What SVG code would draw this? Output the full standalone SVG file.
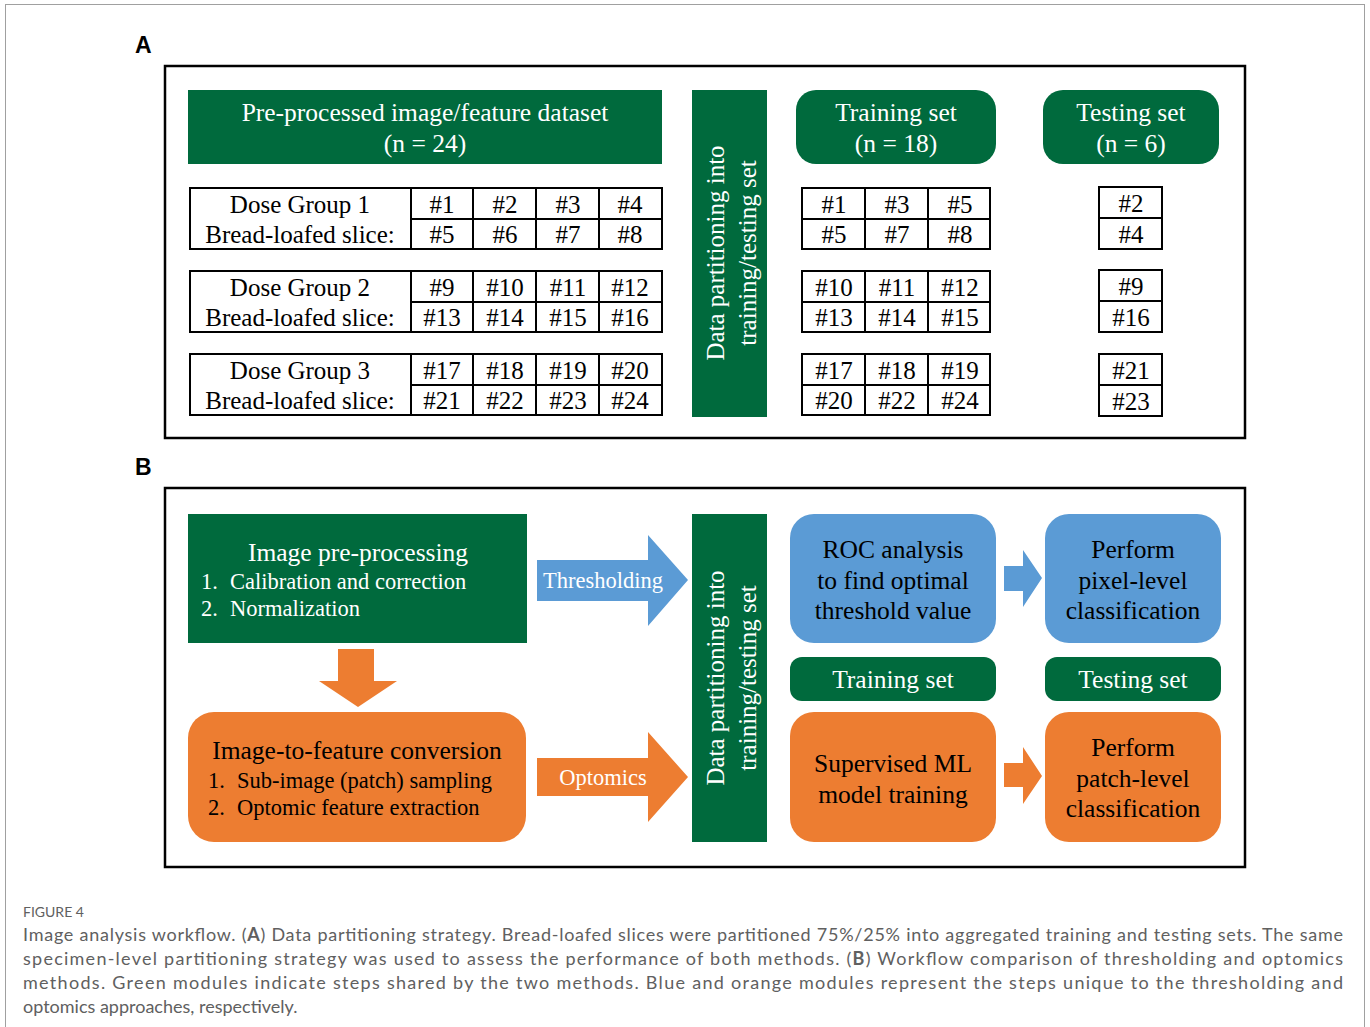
<svg xmlns="http://www.w3.org/2000/svg" width="1370" height="1027" viewBox="0 0 1370 1027">
<style>
.bg{fill:#ffffff}
.frame{fill:none;stroke:#000;stroke-width:2.5}
.outer{fill:none;stroke:#a0a0a0;stroke-width:1}
.green{fill:#006a3d}
.blue{fill:#5b9bd5}
.orange{fill:#ed7d31}
.cell{fill:#fff;stroke:#000;stroke-width:2}
.line{stroke:#000;stroke-width:2}
.t{font-family:"Liberation Serif","Times New Roman",serif;text-anchor:middle}
.s{font-family:"Liberation Serif","Times New Roman",serif}
.w{fill:#fff}
.k{fill:#000}
.f26{font-size:25.5px}
.f25{font-size:25px}
.f22{font-size:22.5px}
.lbl{font-family:"Liberation Sans",Arial,sans-serif;font-weight:bold;font-size:23px;fill:#000}
.cap{font-family:Lato,"Open Sans","Liberation Sans",sans-serif;font-size:18px;fill:#606060}
</style>
<rect class="bg" x="0" y="0" width="1370" height="1027"/>
<rect class="outer" x="5.5" y="4.5" width="1359" height="1040"/>

<!-- Panel A -->
<text class="lbl" x="135" y="53">A</text>
<rect class="frame" x="165" y="66" width="1080" height="372"/>

<g id="dataset-header">
<rect class="green" x="188" y="90" width="474" height="74"/>
<text class="t w f26" x="425" y="121">Pre-processed image/feature dataset</text>
<text class="t w f26" x="425" y="152">(n = 24)</text>
</g>

<g id="dose-group-1">
<rect class="cell" x="190" y="188" width="472" height="61"/>
<line class="line" x1="411" y1="188" x2="411" y2="249"/>
<line class="line" x1="473" y1="188" x2="473" y2="249"/>
<line class="line" x1="536" y1="188" x2="536" y2="249"/>
<line class="line" x1="599" y1="188" x2="599" y2="249"/>
<line class="line" x1="411" y1="219" x2="662" y2="219"/>
<text class="t k f25" x="300" y="213">Dose Group 1</text>
<text class="t k f25" x="300" y="243">Bread-loafed slice:</text>
<text class="t k f25" x="442" y="213">#1</text><text class="t k f25" x="505" y="213">#2</text><text class="t k f25" x="568" y="213">#3</text><text class="t k f25" x="630" y="213">#4</text>
<text class="t k f25" x="442" y="243">#5</text><text class="t k f25" x="505" y="243">#6</text><text class="t k f25" x="568" y="243">#7</text><text class="t k f25" x="630" y="243">#8</text>
</g>

<g id="dose-group-2">
<rect class="cell" x="190" y="271" width="472" height="61"/>
<line class="line" x1="411" y1="271" x2="411" y2="332"/>
<line class="line" x1="473" y1="271" x2="473" y2="332"/>
<line class="line" x1="536" y1="271" x2="536" y2="332"/>
<line class="line" x1="599" y1="271" x2="599" y2="332"/>
<line class="line" x1="411" y1="302" x2="662" y2="302"/>
<text class="t k f25" x="300" y="296">Dose Group 2</text>
<text class="t k f25" x="300" y="326">Bread-loafed slice:</text>
<text class="t k f25" x="442" y="296">#9</text><text class="t k f25" x="505" y="296">#10</text><text class="t k f25" x="568" y="296">#11</text><text class="t k f25" x="630" y="296">#12</text>
<text class="t k f25" x="442" y="326">#13</text><text class="t k f25" x="505" y="326">#14</text><text class="t k f25" x="568" y="326">#15</text><text class="t k f25" x="630" y="326">#16</text>
</g>

<g id="dose-group-3">
<rect class="cell" x="190" y="354" width="472" height="61"/>
<line class="line" x1="411" y1="354" x2="411" y2="415"/>
<line class="line" x1="473" y1="354" x2="473" y2="415"/>
<line class="line" x1="536" y1="354" x2="536" y2="415"/>
<line class="line" x1="599" y1="354" x2="599" y2="415"/>
<line class="line" x1="411" y1="385" x2="662" y2="385"/>
<text class="t k f25" x="300" y="379">Dose Group 3</text>
<text class="t k f25" x="300" y="409">Bread-loafed slice:</text>
<text class="t k f25" x="442" y="379">#17</text><text class="t k f25" x="505" y="379">#18</text><text class="t k f25" x="568" y="379">#19</text><text class="t k f25" x="630" y="379">#20</text>
<text class="t k f25" x="442" y="409">#21</text><text class="t k f25" x="505" y="409">#22</text><text class="t k f25" x="568" y="409">#23</text><text class="t k f25" x="630" y="409">#24</text>
</g>

<g id="partition-a">
<rect class="green" x="692" y="90" width="75" height="327"/>
<text class="t w f25" transform="translate(724,253) rotate(-90)">Data partitioning into</text>
<text class="t w f25" transform="translate(756,253) rotate(-90)">training/testing set</text>
</g>

<g id="training-header">
<rect class="green" x="796" y="90" width="200" height="74" rx="20"/>
<text class="t w f26" x="896" y="121">Training set</text>
<text class="t w f26" x="896" y="152">(n = 18)</text>
</g>

<g id="testing-header">
<rect class="green" x="1043" y="90" width="176" height="74" rx="20"/>
<text class="t w f26" x="1131" y="121">Testing set</text>
<text class="t w f26" x="1131" y="152">(n = 6)</text>
</g>

<g id="training-table-1">
<rect class="cell" x="802" y="188" width="188" height="61"/>
<line class="line" x1="865" y1="188" x2="865" y2="249"/>
<line class="line" x1="928" y1="188" x2="928" y2="249"/>
<line class="line" x1="802" y1="219" x2="990" y2="219"/>
<text class="t k f25" x="834" y="213">#1</text><text class="t k f25" x="897" y="213">#3</text><text class="t k f25" x="960" y="213">#5</text>
<text class="t k f25" x="834" y="243">#5</text><text class="t k f25" x="897" y="243">#7</text><text class="t k f25" x="960" y="243">#8</text>
</g>
<g id="training-table-2">
<rect class="cell" x="802" y="271" width="188" height="61"/>
<line class="line" x1="865" y1="271" x2="865" y2="332"/>
<line class="line" x1="928" y1="271" x2="928" y2="332"/>
<line class="line" x1="802" y1="302" x2="990" y2="302"/>
<text class="t k f25" x="834" y="296">#10</text><text class="t k f25" x="897" y="296">#11</text><text class="t k f25" x="960" y="296">#12</text>
<text class="t k f25" x="834" y="326">#13</text><text class="t k f25" x="897" y="326">#14</text><text class="t k f25" x="960" y="326">#15</text>
</g>
<g id="training-table-3">
<rect class="cell" x="802" y="354" width="188" height="61"/>
<line class="line" x1="865" y1="354" x2="865" y2="415"/>
<line class="line" x1="928" y1="354" x2="928" y2="415"/>
<line class="line" x1="802" y1="385" x2="990" y2="385"/>
<text class="t k f25" x="834" y="379">#17</text><text class="t k f25" x="897" y="379">#18</text><text class="t k f25" x="960" y="379">#19</text>
<text class="t k f25" x="834" y="409">#20</text><text class="t k f25" x="897" y="409">#22</text><text class="t k f25" x="960" y="409">#24</text>
</g>

<g id="testing-table-1">
<rect class="cell" x="1099" y="187" width="63" height="62"/>
<line class="line" x1="1099" y1="218" x2="1162" y2="218"/>
<text class="t k f25" x="1131" y="212">#2</text>
<text class="t k f25" x="1131" y="243">#4</text>
</g>
<g id="testing-table-2">
<rect class="cell" x="1099" y="270" width="63" height="62"/>
<line class="line" x1="1099" y1="301" x2="1162" y2="301"/>
<text class="t k f25" x="1131" y="295">#9</text>
<text class="t k f25" x="1131" y="326">#16</text>
</g>
<g id="testing-table-3">
<rect class="cell" x="1099" y="354" width="63" height="62"/>
<line class="line" x1="1099" y1="385" x2="1162" y2="385"/>
<text class="t k f25" x="1131" y="379">#21</text>
<text class="t k f25" x="1131" y="410">#23</text>
</g>

<!-- Panel B -->
<text class="lbl" x="135" y="475">B</text>
<rect class="frame" x="165" y="488" width="1080" height="379"/>

<g id="image-preprocessing">
<rect class="green" x="188" y="514" width="339" height="129"/>
<text class="t w f26" x="358" y="561">Image pre-processing</text>
<text class="s w f22" x="201" y="589">1.</text>
<text class="s w f22" x="230" y="589">Calibration and correction</text>
<text class="s w f22" x="201" y="616">2.</text>
<text class="s w f22" x="230" y="616">Normalization</text>
</g>

<g id="image-to-feature">
<rect class="orange" x="188" y="712" width="338" height="130" rx="26"/>
<text class="t k f26" x="357" y="759">Image-to-feature conversion</text>
<text class="s k f22" x="208" y="788">1.</text>
<text class="s k f22" x="237" y="788">Sub-image (patch) sampling</text>
<text class="s k f22" x="208" y="815">2.</text>
<text class="s k f22" x="237" y="815">Optomic feature extraction</text>
</g>

<g id="partition-b">
<rect class="green" x="692" y="514" width="75" height="328"/>
<text class="t w f25" transform="translate(724,678) rotate(-90)">Data partitioning into</text>
<text class="t w f25" transform="translate(756,678) rotate(-90)">training/testing set</text>
</g>

<g id="roc-analysis">
<rect class="blue" x="790" y="514" width="206" height="129" rx="24"/>
<text class="t k f26" x="893" y="558">ROC analysis</text>
<text class="t k f26" x="893" y="589">to find optimal</text>
<text class="t k f26" x="893" y="619">threshold value</text>
</g>

<g id="pixel-classification">
<rect class="blue" x="1045" y="514" width="176" height="129" rx="24"/>
<text class="t k f26" x="1133" y="558">Perform</text>
<text class="t k f26" x="1133" y="589">pixel-level</text>
<text class="t k f26" x="1133" y="619">classification</text>
</g>

<g id="training-set-b">
<rect class="green" x="790" y="657" width="206" height="44" rx="12"/>
<text class="t w f26" x="893" y="688">Training set</text>
</g>

<g id="testing-set-b">
<rect class="green" x="1045" y="657" width="176" height="44" rx="12"/>
<text class="t w f26" x="1133" y="688">Testing set</text>
</g>

<g id="supervised-ml">
<rect class="orange" x="790" y="712" width="206" height="130" rx="24"/>
<text class="t k f26" x="893" y="772">Supervised ML</text>
<text class="t k f26" x="893" y="803">model training</text>
</g>

<g id="patch-classification">
<rect class="orange" x="1045" y="712" width="176" height="130" rx="24"/>
<text class="t k f26" x="1133" y="756">Perform</text>
<text class="t k f26" x="1133" y="787">patch-level</text>
<text class="t k f26" x="1133" y="817">classification</text>
</g>

<g id="connectors">
<polygon class="blue" points="537,560 648,560 648,535 688,580 648,626 648,601 537,601"/>
<text class="t w f22" x="603" y="588">Thresholding</text>
<polygon class="orange" points="338,649 374,649 374,681 397,681 358,707 319,681 338,681"/>
<polygon class="orange" points="537,758 648,758 648,732 688,777 648,822 648,796 537,796"/>
<text class="t w f22" x="603" y="785">Optomics</text>
<polygon class="blue" points="1004,566 1023,566 1023,550 1042,578 1023,607 1023,591 1004,591"/>
<polygon class="orange" points="1004,763 1023,763 1023,747 1042,776 1023,804 1023,787 1004,787"/>
</g>

<!-- Caption -->
<text class="cap" x="23" y="917" style="font-size:14px">FIGURE 4</text>
<text class="cap" x="23" y="941" textLength="1320" lengthAdjust="spacing">Image analysis workflow. (<tspan font-weight="bold">A</tspan>) Data partitioning strategy. Bread-loafed slices were partitioned 75%/25% into aggregated training and testing sets. The same</text>
<text class="cap" x="23" y="965" textLength="1320" lengthAdjust="spacing">specimen-level partitioning strategy was used to assess the performance of both methods. (<tspan font-weight="bold">B</tspan>) Workflow comparison of thresholding and optomics</text>
<text class="cap" x="23" y="989" textLength="1320" lengthAdjust="spacing">methods. Green modules indicate steps shared by the two methods. Blue and orange modules represent the steps unique to the thresholding and</text>
<text class="cap" x="23" y="1013">optomics approaches, respectively.</text>
</svg>
